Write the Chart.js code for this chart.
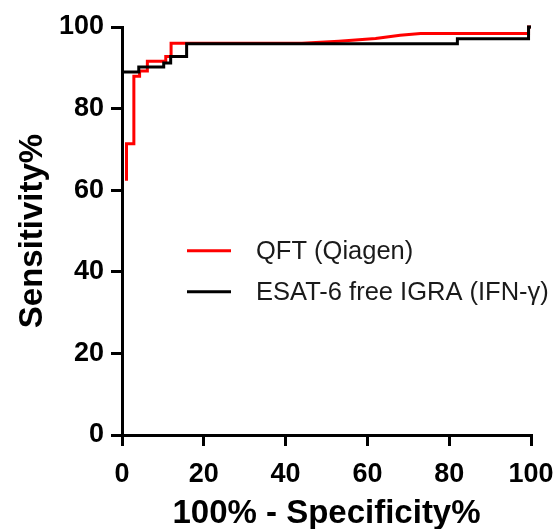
<!DOCTYPE html>
<html>
<head>
<meta charset="utf-8">
<script src="https://cdn.jsdelivr.net/npm/chart.js@4"></script>
<style>
  html, body { margin: 0; padding: 0; background: #fff; }
  #wrap { width: 556px; height: 529px; position: relative; }
</style>
</head>
<body>
<div id="wrap"><canvas id="rocChart" width="556" height="529"></canvas></div>
<script>
// ROC data (x = 100% - Specificity%, y = Sensitivity%)
const qftLabel = 'QFT (Qiagen)';
const qftX = [1.1, 1.1, 2.9, 2.9, 4.3, 4.3, 6.2, 6.2, 10.7, 10.7, 12.0, 12.0, 44, 53, 62, 68, 73, 99.4, 99.4, 100];
const qftY = [62.3, 71.4, 71.4, 87.9, 87.9, 89.2, 89.2, 91.6, 91.6, 92.8, 92.8, 96.0, 96.0, 96.5, 97.2, 98.0, 98.4, 98.4, 100, 100];

const esatLabel = 'ESAT-6 free IGRA (IFN-\u03b3)';
const esatX = [0, 4.1, 4.1, 10.2, 10.2, 11.9, 11.9, 15.8, 15.8, 82, 82, 99.4, 99.4, 100];
const esatY = [89.0, 89.0, 90.2, 90.2, 91.2, 91.2, 92.8, 92.8, 95.9, 95.9, 97.1, 97.1, 100, 100];

const axisTicks = [0, 20, 40, 60, 80, 100];

const FONT = '"Liberation Sans", Arial, sans-serif';

function toPoints(xs, ys) {
    return xs.map((x, i) => ({ x: x, y: ys[i] }));
}

// legend drawn inside the plot area, like the original
const innerLegend = {
    id: 'innerLegend',
    afterDraw(chart) {
        const ctx = chart.ctx;
        const startX = 187, lineLen = 44, textX = 256;
        const rows = [250.7, 291.7];
        ctx.save();
        chart.data.datasets.forEach((ds, i) => {
            const y = rows[i];
            ctx.strokeStyle = ds.borderColor;
            ctx.lineWidth = 3;
            ctx.beginPath();
            ctx.moveTo(startX, y);
            ctx.lineTo(startX + lineLen, y);
            ctx.stroke();
            ctx.fillStyle = '#1a1a1a';
            ctx.font = '25.5px ' + FONT;
            ctx.textBaseline = 'middle';
            ctx.textAlign = 'left';
            ctx.fillText(ds.label, textX, y + 1);
        });
        ctx.restore();
    }
};

const ctx = document.getElementById('rocChart').getContext('2d');
const rocChart = new Chart(ctx, {
    type: 'scatter',
    data: {
        datasets: [{
            label: qftLabel,
            data: toPoints(qftX, qftY),
            showLine: true,
            borderColor: '#ff0000',
            borderWidth: 3,
            pointRadius: 0,
            tension: 0,
            order: 2,
            clip: 6
        }, {
            label: esatLabel,
            data: toPoints(esatX, esatY),
            showLine: true,
            borderColor: '#000000',
            borderWidth: 3,
            pointRadius: 0,
            tension: 0,
            order: 1,
            clip: 6
        }]
    },
    options: {
        responsive: false,
        animation: false,
        devicePixelRatio: 1,
        layout: { padding: { top: 27, right: 25, left: 0, bottom: -5 } },
        plugins: {
            legend: { display: false },
            tooltip: { enabled: false }
        },
        scales: {
            x: {
                type: 'linear',
                min: 0,
                max: 100,
                afterFit: (scale) => {
                    scale.height = 99;
                    scale.paddingLeft = 0;
                    scale.paddingRight = 0;
                },
                afterBuildTicks: (scale) => { scale.ticks = axisTicks.map(v => ({ value: v })); },
                border: { display: true, color: '#000', width: 3 },
                grid: { display: true, drawOnChartArea: false, drawTicks: true, tickLength: 11, color: '#000', lineWidth: 3 },
                ticks: { color: '#000', padding: 12, font: { family: FONT, size: 27, weight: 'bold' } },
                title: {
                    display: true,
                    text: '100% - Specificity%',
                    color: '#000',
                    padding: { top: 0, bottom: 0 },
                    font: { family: FONT, size: 33, weight: 'bold' }
                }
            },
            y: {
                type: 'linear',
                min: 0,
                max: 100,
                afterFit: (scale) => { scale.width = 122; },
                afterBuildTicks: (scale) => { scale.ticks = axisTicks.map(v => ({ value: v })); },
                border: { display: true, color: '#000', width: 3 },
                grid: { display: true, drawOnChartArea: false, drawTicks: true, tickLength: 11, color: '#000', lineWidth: 3 },
                ticks: { color: '#000', padding: 7, font: { family: FONT, size: 27, weight: 'bold' } },
                title: {
                    display: true,
                    text: 'Sensitivity%',
                    color: '#000',
                    padding: { top: 13, bottom: 0 },
                    font: { family: FONT, size: 33, weight: 'bold' }
                }
            }
        }
    },
    plugins: [innerLegend]
});
</script>
</body>
</html>
